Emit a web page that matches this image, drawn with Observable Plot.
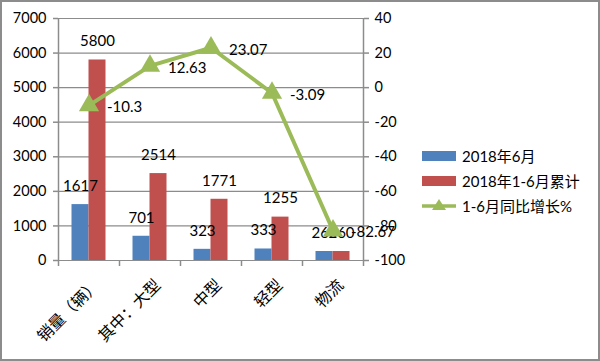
<!DOCTYPE html>
<html><head><meta charset="utf-8">
<script src="https://cdn.jsdelivr.net/npm/d3@7"></script>
<script src="https://cdn.jsdelivr.net/npm/@observablehq/plot@0.6"></script>
<style>
body{margin:0;background:#fff;}
#wrap{position:relative;width:600px;height:361px;overflow:hidden;background:#fff;}
#chart svg{display:block;}
#border{position:absolute;left:0;top:0;width:600px;height:361px;box-sizing:border-box;border:2px solid #8c8c8c;pointer-events:none;}
#legend{position:absolute;left:422px;top:143px;font-family:Lato,"Noto Sans CJK SC",sans-serif;font-size:15px;color:#000;}
.item{display:flex;align-items:center;height:25px;}
.sw{width:34px;height:10px;margin-right:6px;flex:none;}
.ln{width:34px;height:24px;margin-right:6px;flex:none;}
</style></head><body>
<div id="wrap"><div id="chart"></div><div id="legend"></div><div id="border"></div></div>
<script>
const categories = ["销量（辆）", "其中：大型", "中型", "轻型", "物流"];
const june2018 = [1617, 701, 323, 333, 260];
const janJun2018 = [5800, 2514, 1771, 1255, 260];
const growthPct = [-10.3, 12.63, 23.07, -3.09, -82.67];
const seriesNames = ["2018年6月", "2018年1-6月累计", "1-6月同比增长%"];
const colors = ["#4F81BD", "#C0504D", "#9BBB59"];
const leftTicks = [0, 1000, 2000, 3000, 4000, 5000, 6000, 7000];
const rightTicks = [-100, -80, -60, -40, -20, 0, 20, 40];

const leftDomain = [0, 7000];
const rightDomain = [-100, 40];
const toLeft = p => (p - rightDomain[0]) / (rightDomain[1] - rightDomain[0]) * (leftDomain[1] - leftDomain[0]) + leftDomain[0];
const toRight = v => Math.round((v - leftDomain[0]) / (leftDomain[1] - leftDomain[0]) * (rightDomain[1] - rightDomain[0]) + rightDomain[0]);

const W = 600, H = 361, mL = 58, mR = 237, mT = 18, mB = 101;
const bw = (W - mL - mR) / categories.length;
const barW = 17;
const gap = (bw - 2 * barW) / 2;

const s1 = categories.map((c, i) => ({c, v: june2018[i]}));
const s2 = categories.map((c, i) => ({c, v: janJun2018[i]}));
const s3 = categories.map((c, i) => ({c, p: growthPct[i], y: toLeft(growthPct[i])}));

const grey = "#8c8c8c";
const numFont = "Lato, 'Noto Sans CJK SC', sans-serif";

const chart = Plot.plot({
  width: W, height: H,
  marginLeft: mL, marginRight: mR, marginTop: mT, marginBottom: mB,
  style: {fontFamily: numFont, fontSize: "14px", color: "#000", background: "#fff"},
  x: {domain: categories, padding: 0, axis: null, label: null},
  y: {domain: leftDomain, axis: null, label: null},
  marks: [
    Plot.gridY(leftTicks, {stroke: grey, strokeOpacity: 1, strokeWidth: 1.2}),
    Plot.barY(s1, {x: "c", y: "v", fill: colors[0], insetLeft: gap, insetRight: bw - gap - barW}),
    Plot.barY(s2, {x: "c", y: "v", fill: colors[1], insetLeft: gap + barW, insetRight: gap}),
    Plot.ruleX([categories[0]], {dx: -bw / 2, stroke: grey, strokeWidth: 1.5}),
    Plot.ruleX([categories[categories.length - 1]], {dx: bw / 2, stroke: grey, strokeWidth: 1.5}),
    Plot.axisX(categories, {tickSize: 6, tickFormat: null, label: null, dx: -bw / 2, stroke: grey, strokeWidth: 1.5}),
    Plot.axisX([categories[categories.length - 1]], {tickSize: 6, tickFormat: null, label: null, dx: bw / 2, stroke: grey, strokeWidth: 1.5}),
    Plot.axisX(categories, {tickSize: 0, tickPadding: 22, tickRotate: -45, dx: 8, label: null, fontSize: 16, fontFamily: "'Noto Sans CJK SC', sans-serif", fill: "#000"}),
    Plot.axisY(leftTicks, {anchor: "left", tickSize: 5, tickPadding: 7, label: null, stroke: grey, strokeWidth: 1.5, fill: "#000", fontSize: 14.5, tickFormat: d => String(d)}),
    Plot.axisY(rightTicks.map(toLeft), {anchor: "right", tickSize: 5, tickPadding: 6, label: null, stroke: grey, strokeWidth: 1.5, fill: "#000", fontSize: 14.5, tickFormat: v => String(toRight(v))}),
    Plot.text(s1, {x: "c", y: "v", text: d => String(d.v), dx: -barW / 2, dy: -18.5, fontSize: 15, fill: "#000"}),
    Plot.text(s2, {x: "c", y: "v", text: d => String(d.v), dx: barW / 2, dy: -18.5, fontSize: 15, fill: "#000"}),
    Plot.line(s3, {x: "c", y: "y", stroke: colors[2], strokeWidth: 4}),
    Plot.dot(s3, {x: "c", y: "y", symbol: "triangle", fill: colors[2], r: 7.5}),
    Plot.text(s3, {x: "c", y: "y", text: d => String(d.p), textAnchor: "start", dx: 18, dy: 2, fontSize: 15, fill: "#000"})
  ]
});
document.getElementById("chart").appendChild(chart);

const legend = document.getElementById("legend");
seriesNames.forEach((name, i) => {
  const item = document.createElement("div");
  item.className = "item";
  if (i < 2) {
    item.innerHTML = `<div class="sw" style="background:${colors[i]}"></div><span>${name}</span>`;
  } else {
    item.innerHTML = `<svg class="ln" viewBox="0 0 34 24"><line x1="0" y1="12" x2="34" y2="12" stroke="${colors[i]}" stroke-width="3.5"/><path d="M17,5 L24,16 L10,16 Z" fill="${colors[i]}"/></svg><span>${name}</span>`;
  }
  legend.appendChild(item);
});
</script>
</body></html>
